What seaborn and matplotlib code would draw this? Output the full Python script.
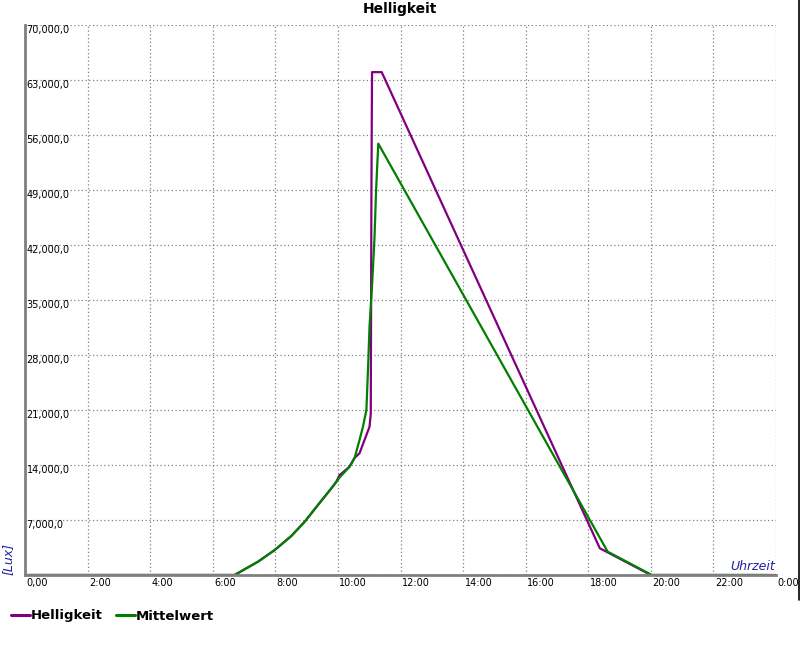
import pandas as pd
import matplotlib
matplotlib.use("Agg")
import matplotlib.pyplot as plt
import matplotlib.transforms as mtrans
from matplotlib.lines import Line2D
import seaborn as sns

# Helligkeit (purple), hours vs lux
hell_h = [0.0, 6.70, 7.02, 7.45, 7.98, 8.51, 8.94, 9.36, 9.79, 9.95, 10.05, 10.37, 10.53,
          10.69, 10.85, 11.01, 11.05, 11.07, 11.09, 11.40, 18.37, 20.0, 24.0]
hell_lux = [0, 0, 730, 1700, 3180, 4960, 6790, 8900, 11030, 11870, 12700, 13780, 14900,
            15490, 17180, 18870, 20500, 48000, 64000, 64000, 3400, 0, 0]

# Mittelwert (green)
mittel_h = [0.17, 6.70, 7.02, 7.45, 7.98, 8.51, 8.94, 9.36, 9.79, 9.95, 10.05, 10.37, 10.53,
            10.69, 10.80, 10.91, 10.96, 11.01, 11.10, 11.17, 11.22, 11.29, 18.62, 20.03, 23.7]
mittel_lux = [0, 0, 730, 1700, 3180, 4960, 6790, 8900, 11030, 11870, 12400, 13780, 14850,
              17180, 18870, 21000, 26000, 31600, 37500, 43000, 49000, 54900, 2970, 0, 0]

y_ticks = [7000, 14000, 21000, 28000, 35000, 42000, 49000, 56000, 63000, 70000]
x_ticks = [0, 2, 4, 6, 8, 10, 12, 14, 16, 18, 20, 22, 24]
x_labels = ["0,00", "2:00", "4:00", "6:00", "8:00", "10:00", "12:00",
            "14:00", "16:00", "18:00", "20:00", "22:00", "0:00"]

df = pd.concat([
    pd.DataFrame({"Uhrzeit": hell_h, "Lux": hell_lux, "Serie": "Helligkeit"}),
    pd.DataFrame({"Uhrzeit": mittel_h, "Lux": mittel_lux, "Serie": "Mittelwert"}),
])

sns.set_style("white")
plt.rcParams["font.family"] = ["DejaVu Sans"]
plt.rcParams["text.color"] = "black"
plt.rcParams["xtick.color"] = "black"
plt.rcParams["ytick.color"] = "black"

fig = plt.figure(figsize=(8, 6.5), dpi=100)
ax = fig.add_axes([25 / 800, 1 - 575 / 650, 751 / 800, 550 / 650])

sns.lineplot(data=df, x="Uhrzeit", y="Lux", hue="Serie",
             palette={"Helligkeit": "#800080", "Mittelwert": "#008000"},
             sort=False, estimator=None, linewidth=1.6, legend=False, ax=ax)

ax.set_xlim(0, 24)
ax.set_ylim(0, 70000)
ax.set_xticks(x_ticks)
ax.set_yticks([0] + y_ticks)
ax.grid(True, color="#808080", linestyle=(0, (1, 2)), linewidth=0.9)
ax.tick_params(length=0)
ax.set_yticklabels([])
ax.set_xticklabels(x_labels, fontsize=7, ha="left", color="black")
ax.tick_params(axis="x", pad=2)
# x labels sit just right of their gridline
offset = mtrans.ScaledTranslation(1.5 / 100, 0, fig.dpi_scale_trans)
for lbl in ax.get_xticklabels():
    lbl.set_transform(lbl.get_transform() + offset)

# y labels drawn inside the plot, just below each gridline
ytrans = mtrans.blended_transform_factory(ax.transAxes, ax.transData)
for v in y_ticks:
    ax.text(0.002, v, f"{v:,.0f},0", transform=ytrans, ha="left", va="top",
            fontsize=7, color="black")

ax.set_xlabel("")
ax.set_ylabel("")
for side in ["top", "right"]:
    ax.spines[side].set_visible(False)
for side in ["left", "bottom"]:
    ax.spines[side].set_color("#808080")
    ax.spines[side].set_linewidth(2)

ax.text(0.999, 0.004, "Uhrzeit", transform=ax.transAxes, ha="right", va="bottom",
        fontsize=9, style="italic", color="#2020a0")
fig.text(8 / 800, 1 - 559 / 650, "[Lux]", rotation=90, ha="center", va="center",
         fontsize=9, style="italic", color="#2020a0")

fig.suptitle("Helligkeit", x=0.5, y=1 - 2 / 650, va="top", fontsize=10,
             fontweight="bold", color="black")

handles = [Line2D([], [], color="#800080", linewidth=2.2),
           Line2D([], [], color="#008000", linewidth=2.2)]
leg = fig.legend(handles, ["Helligkeit", "Mittelwert"], loc="center left",
                 bbox_to_anchor=(-1 / 800, 1 - 616 / 650), ncol=2, frameon=False,
                 handlelength=1.45, handletextpad=0.05, columnspacing=1.0,
                 prop={"weight": "bold", "size": 9.5})
for t in leg.get_texts():
    t.set_color("black")

fig.add_artist(Line2D([798.5 / 800, 798.5 / 800], [1, 1 - 600 / 650],
                      color="black", linewidth=1.2, transform=fig.transFigure))

fig.savefig("out.png", dpi=100)
